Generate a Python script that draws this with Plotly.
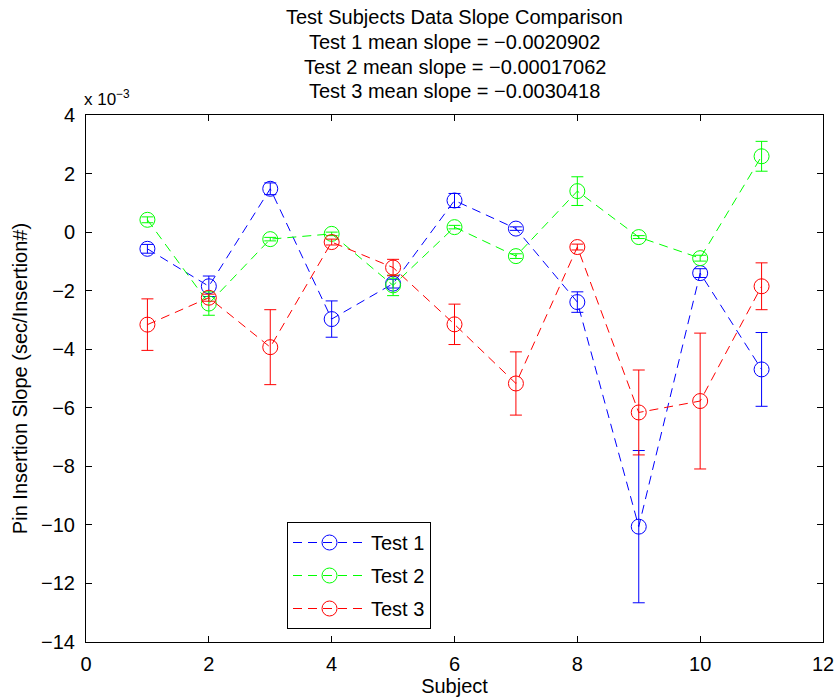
import plotly.graph_objects as go

subjects = [1, 2, 3, 4, 5, 6, 7, 8, 9, 10, 11]

# slopes in units of 1e-3
test1 = [-0.57, -1.85, 1.48, -2.97, -1.76, 1.08, 0.12, -2.39, -10.06, -1.40, -4.69]
test1_err = [0.15, 0.35, 0.2, 0.62, 0.15, 0.24, 0.06, 0.35, 2.6, 0.15, 1.26]

test2 = [0.42, -2.44, -0.24, -0.06, -1.82, 0.17, -0.82, 1.40, -0.17, -0.89, 2.59]
test2_err = [0.1, 0.4, 0.06, 0.06, 0.35, 0.06, 0.08, 0.49, 0.05, 0.1, 0.51]

test3 = [-3.16, -2.24, -3.93, -0.34, -1.21, -3.15, -5.17, -0.51, -6.16, -5.77, -1.85]
test3_err = [0.88, 0.12, 1.28, 0.1, 0.28, 0.69, 1.08, 0.1, 1.45, 2.32, 0.8]

names = ["Test 1", "Test 2", "Test 3"]
colors = ["#0000ff", "#00ff00", "#ff0000"]
means = ["−0.0020902", "−0.00017062", "−0.0030418"]

title_lines = ["Test Subjects Data Slope Comparison"] + [
    f"Test {i+1} mean slope = {m}" for i, m in enumerate(means)]

y_ticks = [4, 2, 0, -2, -4, -6, -8, -10, -12, -14]
x_ticks = [0, 2, 4, 6, 8, 10, 12]

FONT = "Liberation Sans, Arial, Helvetica, sans-serif"
FS = 20

W, H = 839, 700
ML, MR, MT, MB = 86, 16, 115, 58
PW = W - ML - MR
PH = H - MT - MB

fig = go.Figure()
for name, vals, errs, col in zip(names, [test1, test2, test3],
                                 [test1_err, test2_err, test3_err], colors):
    fig.add_trace(go.Scatter(
        x=subjects, y=vals, name=name, mode="lines+markers", legendgroup=name,
        line=dict(color=col, width=1, dash="9px,6px"),
        marker=dict(symbol="circle-open", size=15, color=col, line=dict(width=1, color=col)),
        error_y=dict(type="data", array=errs, visible=True, color=col,
                     thickness=1, width=6),
    ))

axis_common = dict(
    showline=True, linecolor="black", linewidth=1, mirror="ticks",
    ticks="inside", ticklen=6, tickcolor="black", tickwidth=1,
    showgrid=False, zeroline=False, automargin=False,
    tickfont=dict(family=FONT, size=FS, color="black"),
)

fig.update_layout(
    width=W, height=H,
    margin=dict(l=ML, r=MR, t=MT, b=MB, autoexpand=False),
    paper_bgcolor="white", plot_bgcolor="white",
    font=dict(family=FONT, size=FS, color="black"),
    xaxis=dict(range=[0, 12], tickvals=x_ticks, ticktext=[str(v) for v in x_ticks],
               ticklabelstandoff=4,
               title=dict(text="Subject", standoff=4, font=dict(family=FONT, size=FS)),
               **axis_common),
    yaxis=dict(range=[-14, 4], tickvals=y_ticks,
               ticktext=[str(v).replace("-", "−") for v in y_ticks],
               ticklabelstandoff=6,
               title=dict(text="Pin Insertion Slope (sec/Insertion#)", standoff=8,
                          font=dict(family=FONT, size=FS)),
               **axis_common),
    legend=dict(x=(287 - ML) / PW, y=(H - MB - 522) / PH,
                xanchor="left", yanchor="top",
                bgcolor="white", bordercolor="black", borderwidth=1,
                font=dict(family=FONT, size=FS, color="black"),
                itemwidth=73, tracegroupgap=4),
    showlegend=True,
)

for yc, line in zip([17, 42, 67, 91], title_lines):
    fig.add_annotation(text=line, xref="paper", yref="paper",
                       x=0.5, y=1 + (MT - yc) / PH, xanchor="center", yanchor="middle",
                       showarrow=False, font=dict(family=FONT, size=FS, color="black"))

fig.add_annotation(text="x 10<sup>−3</sup>", xref="paper", yref="paper",
                   x=0.0, y=1.0, xanchor="left", yanchor="bottom", showarrow=False,
                   xshift=-4, yshift=4, font=dict(family=FONT, size=17, color="black"))

fig.write_html("out.html")
